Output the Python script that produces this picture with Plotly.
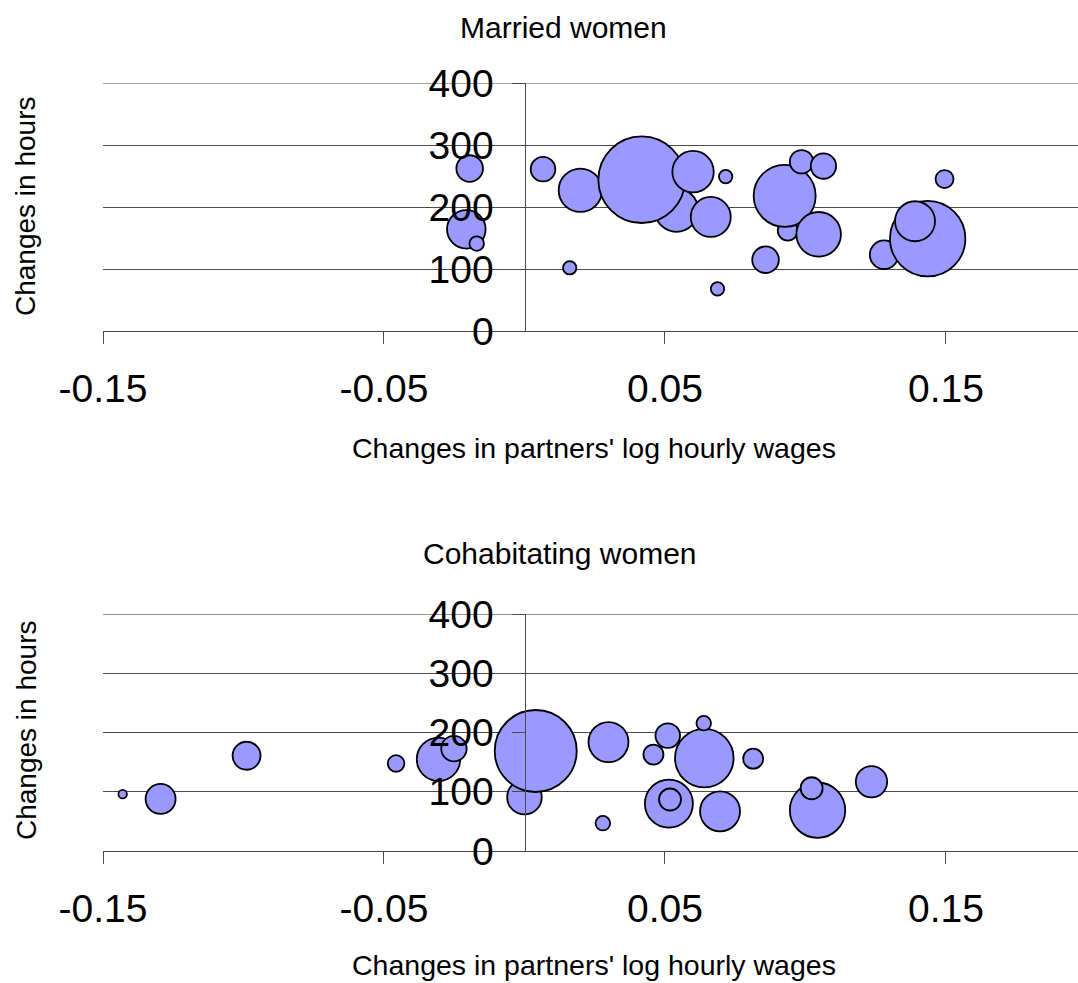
import plotly.graph_objects as go

# Married women: change in partner's log hourly wage, change in hours, bubble size
married_x = [-0.0195, -0.0207, -0.0170, 0.0066, 0.0199, 0.0161, 0.0541, 0.0417,
             0.0600, 0.0663, 0.0716, 0.0687, 0.0858, 0.0937, 0.0926, 0.1047,
             0.0986, 0.1064, 0.1280, 0.1435, 0.1390, 0.1495]
married_y = [262, 164, 141, 261, 227, 102, 195, 244,
             257, 184, 249, 68, 115, 162, 218, 156,
             273, 266, 123, 149, 177, 245]
married_size = [17.7, 37.2, 5.3, 15.1, 47.1, 4.5, 47.1, 187.5,
                42.8, 40.0, 4.5, 4.5, 17.7, 10.0, 96.1, 49.7,
                13.7, 16.1, 20.4, 142.1, 40.0, 8.1]

# Cohabitating women
cohab_x = [-0.1430, -0.1295, -0.0989, -0.0457, -0.0306, -0.0251, 0.0000, 0.0040,
           0.0299, 0.0279, 0.0459, 0.0510, 0.0514, 0.0518, 0.0640, 0.0638,
           0.0814, 0.0696, 0.1043, 0.1022, 0.1235]
cohab_y = [96, 88, 161, 148, 155, 173, 91, 169,
           184, 47, 163, 195, 80, 87, 157, 216,
           156, 67, 69, 106, 117]
cohab_size = [1.8, 22.5, 19.6, 6.9, 47.1, 16.1, 29.9, 168.1,
              40.0, 5.3, 10.0, 15.1, 57.6, 12.1, 85.8, 5.3,
              10.0, 40.0, 76.7, 12.1, 24.6]

x_ticks = [-0.15, -0.05, 0.05, 0.15]
x_tick_text = ["-0.15", "-0.05", "0.05", "0.15"]
y_ticks = [0, 100, 200, 300, 400]
Y_MAX = 400

W, H = 1078, 983
FONT = "Liberation Sans, Arial, sans-serif"
LINE = "#4a4a4a"
FILL = "#9999FF"
SIZEREF = 0.05  # radius (px) = sqrt(size * 10)

fig = go.Figure()

fig.add_trace(go.Scatter(
    x=married_x, y=married_y, mode="markers", xaxis="x", yaxis="y",
    marker=dict(size=married_size, sizemode="area", sizeref=SIZEREF,
                color=FILL, opacity=1, line=dict(color="black", width=1.8)),
    showlegend=False, cliponaxis=False,
))
fig.add_trace(go.Scatter(
    x=cohab_x, y=cohab_y, mode="markers", xaxis="x2", yaxis="y2",
    marker=dict(size=cohab_size, sizemode="area", sizeref=SIZEREF,
                color=FILL, opacity=1, line=dict(color="black", width=1.8)),
    showlegend=False, cliponaxis=False,
))

x_left = 103 / W
x_zero = 524.5 / W


def xaxis_cfg(anchor):
    return dict(
        domain=[x_left, 1], range=[-0.15, 0.197], anchor=anchor,
        showline=True, linecolor=LINE, linewidth=1,
        ticks="outside", ticklen=12, tickcolor=LINE, tickwidth=1,
        tickvals=x_ticks, ticktext=x_tick_text,
        tickfont=dict(family=FONT, size=39, color="black"),
        ticklabelstandoff=11, automargin=False,
        showgrid=False, zeroline=False,
    )


def yaxis_cfg(domain):
    return dict(
        domain=domain, range=[0, Y_MAX], anchor="free", position=x_zero,
        showline=True, linecolor=LINE, linewidth=1,
        ticks="outside", ticklen=13, tickcolor=LINE, tickwidth=1,
        tickvals=y_ticks, tickfont=dict(family=FONT, size=39, color="black"),
        ticklabelstandoff=10, automargin=False,
        showgrid=True, gridcolor=LINE, gridwidth=1, zeroline=False,
    )


fig.update_layout(
    width=W, height=H,
    margin=dict(l=0, r=0, t=0, b=0, autoexpand=False),
    paper_bgcolor="white", plot_bgcolor="white",
    xaxis=xaxis_cfg("y"),
    yaxis=yaxis_cfg([1 - 331 / H, 1 - 83 / H]),
    xaxis2=xaxis_cfg("y2"),
    yaxis2=yaxis_cfg([1 - 851 / H, 1 - 614.3 / H]),
)

# top gridline at the upper edge of each plot area
for xr, yr in (("x domain", "y"), ("x2 domain", "y2")):
    fig.add_shape(type="line", xref=xr, yref=yr, x0=0, x1=1, y0=Y_MAX, y1=Y_MAX,
                  line=dict(color=LINE, width=1), layer="below")

texts = [
    ("Married women", 563, 28, 30, 0),
    ("Changes in partners' log hourly wages", 594, 448, 28.5, 0),
    ("Changes in hours", 26, 207, 28, -90),
    ("Cohabitating women", 560, 553, 30, 0),
    ("Changes in partners' log hourly wages", 594, 965, 28.5, 0),
    ("Changes in hours", 26, 731, 28, -90),
]
for txt, px, py, fs, ang in texts:
    fig.add_annotation(
        text=txt, x=px / W, y=1 - py / H, xref="paper", yref="paper",
        xanchor="center", yanchor="middle", showarrow=False, textangle=ang,
        font=dict(family=FONT, size=fs, color="black"),
    )

fig.write_html("out.html")
